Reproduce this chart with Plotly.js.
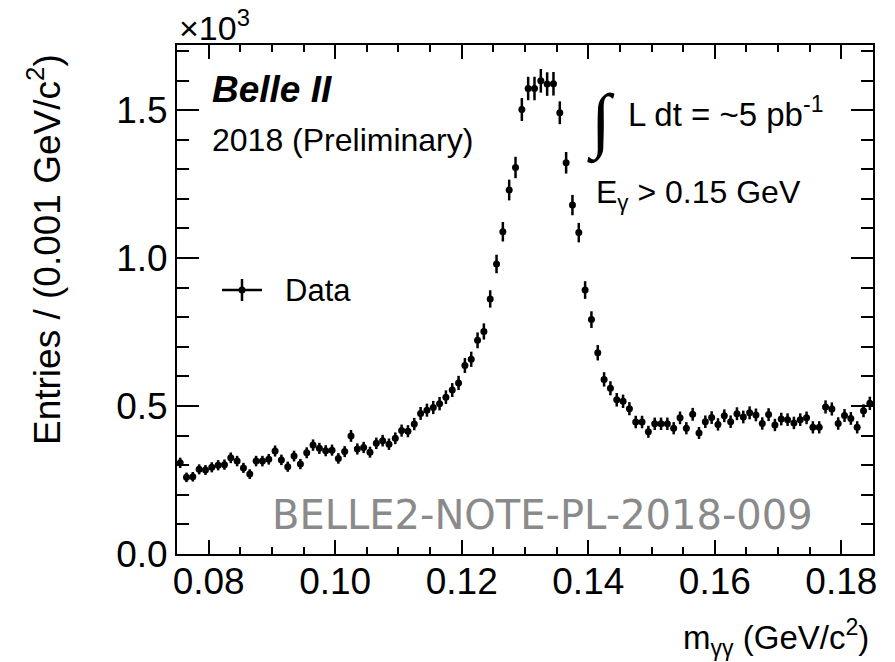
<!DOCTYPE html>
<html>
<head>
<meta charset="utf-8">
<script src="https://cdn.plot.ly/plotly-3.0.1.min.js"></script>
<style>
  html, body { margin: 0; padding: 0; background: #fff; }
  #chart { width: 895px; height: 662px; }
</style>
</head>
<body>
<div id="chart"></div>
<script>
// Diphoton invariant mass histogram: 110 bins of 0.001 GeV/c^2 from 0.075 to 0.185
const binLow = 0.075;
const binWidth = 0.001;

// Entries per bin, in units of 10^3
const entries = [
  0.308, 0.259, 0.261, 0.286, 0.284, 0.293, 0.300, 0.302, 0.325, 0.314,
  0.291, 0.270, 0.314, 0.314, 0.320, 0.348, 0.318, 0.295, 0.331, 0.304,
  0.342, 0.368, 0.357, 0.349, 0.351, 0.323, 0.346, 0.399, 0.355, 0.360,
  0.344, 0.374, 0.383, 0.371, 0.391, 0.417, 0.415, 0.439, 0.475, 0.486,
  0.495, 0.508, 0.530, 0.554, 0.578, 0.637, 0.658, 0.722, 0.752, 0.862,
  0.980, 1.089, 1.230, 1.306, 1.502, 1.573, 1.573, 1.599, 1.588, 1.589,
  1.491, 1.322, 1.179, 1.086, 0.892, 0.792, 0.680, 0.590, 0.560, 0.521,
  0.516, 0.491, 0.446, 0.446, 0.413, 0.440, 0.440, 0.440, 0.425, 0.460,
  0.425, 0.472, 0.409, 0.447, 0.461, 0.438, 0.467, 0.447, 0.474, 0.463,
  0.477, 0.470, 0.441, 0.471, 0.436, 0.456, 0.454, 0.443, 0.454, 0.460,
  0.428, 0.428, 0.497, 0.490, 0.441, 0.468, 0.458, 0.428, 0.484, 0.509
];

const xTickFormat = '.2f';
const yTickFormat = '.1f';

// bin centres and Poisson uncertainties (sqrt of raw counts, back in 10^3 units)
const binCentres = entries.map((_, i) => binLow + (i + 0.5) * binWidth);
const poissonErr = entries.map(v => Math.sqrt(v * 1000) / 1000);

// pixel helpers for the frame: plot area spans x 177..873, y 45..554
const L = 177, R = 873, T = 45, B = 554;
const px = x => (x - L) / (R - L);
const py = y => (B - y) / (B - T);

const FONT = 'Liberation Sans, Arial, Helvetica, sans-serif';

const data = [{
  type: 'scatter',
  mode: 'markers',
  x: binCentres,
  y: entries,
  name: 'Data',
  marker: { color: '#000', size: 7 },
  error_y: { type: 'data', array: poissonErr, visible: true, color: '#000', thickness: 2.5, width: 0 },
  showlegend: false,
  cliponaxis: true
}];

const axisCommon = {
  showgrid: false,
  zeroline: false,
  showline: true,
  linecolor: '#000',
  linewidth: 2,
  mirror: 'ticks',
  ticks: 'inside',
  tickcolor: '#000',
  tickwidth: 2,
  tickfont: { family: FONT, size: 37, color: '#000' }
};

const layout = {
  width: 895,
  height: 662,
  margin: { l: L, r: 895 - R, t: T, b: 662 - B },
  paper_bgcolor: '#fff',
  plot_bgcolor: '#fff',
  showlegend: false,
  xaxis: Object.assign({}, axisCommon, {
    range: [0.075, 0.185],
    tick0: 0.08,
    dtick: 0.02,
    ticklen: 14,
    ticklabelstandoff: -6,
    tickformat: xTickFormat,
    minor: { dtick: 0.005, tick0: 0.08, ticks: 'inside', ticklen: 7, tickwidth: 2, tickcolor: '#000' }
  }),
  yaxis: Object.assign({}, axisCommon, {
    range: [0, 1.72],
    tick0: 0,
    dtick: 0.5,
    ticklen: 22,
    tickformat: yTickFormat,
    minor: { dtick: 0.1, tick0: 0, ticks: 'inside', ticklen: 12, tickwidth: 2, tickcolor: '#000' }
  }),
  shapes: [
    // legend symbol: horizontal bar, vertical error bar, marker
    { type: 'line', xref: 'paper', yref: 'paper', x0: px(222), x1: px(262), y0: py(290), y1: py(290), line: { color: '#000', width: 2.5 } },
    { type: 'line', xref: 'paper', yref: 'paper', x0: px(242), x1: px(242), y0: py(279), y1: py(301), line: { color: '#000', width: 2.5 } },
    { type: 'circle', xref: 'paper', yref: 'paper', x0: px(238.5), x1: px(245.5), y0: py(286.5), y1: py(293.5), fillcolor: '#000', line: { color: '#000', width: 0 } }
  ],
  annotations: [
    { text: '×10<sup>3</sup>', xref: 'paper', yref: 'paper', x: px(177), y: py(49), xanchor: 'left', yanchor: 'bottom', showarrow: false, font: { family: FONT, size: 34, color: '#000' } },
    { text: '<b><i>Belle II</i></b>', xref: 'paper', yref: 'paper', x: px(210), y: py(89), xanchor: 'left', yanchor: 'middle', showarrow: false, font: { family: FONT, size: 37, color: '#000' } },
    { text: '2018 (Preliminary)', xref: 'paper', yref: 'paper', x: px(210), y: py(140), xanchor: 'left', yanchor: 'middle', showarrow: false, font: { family: FONT, size: 32, color: '#000' } },
    { text: '∫', xref: 'paper', yref: 'paper', x: px(585), y: py(122), xanchor: 'left', yanchor: 'middle', showarrow: false, font: { family: 'Liberation Serif, serif', size: 72, color: '#000' } },
    { text: 'L dt = ~5 pb<sup>-1</sup>', xref: 'paper', yref: 'paper', x: px(626), y: py(112), xanchor: 'left', yanchor: 'middle', showarrow: false, font: { family: FONT, size: 33, color: '#000' } },
    { text: 'E<sub>γ</sub> > 0.15 GeV', xref: 'paper', yref: 'paper', x: px(594), y: py(194), xanchor: 'left', yanchor: 'middle', showarrow: false, font: { family: FONT, size: 32, color: '#000' } },
    { text: 'Data', xref: 'paper', yref: 'paper', x: px(283), y: py(290), xanchor: 'left', yanchor: 'middle', showarrow: false, font: { family: FONT, size: 31, color: '#000' } },
    { text: 'BELLE2-NOTE-PL-2018-009', xref: 'paper', yref: 'paper', x: px(270), y: py(515), xanchor: 'left', yanchor: 'middle', showarrow: false, font: { family: 'DejaVu Sans, sans-serif', size: 40, color: '#8a8a8a' } },
    { text: 'm<sub>γγ</sub> (GeV/c<sup>2</sup>)', xref: 'paper', yref: 'paper', x: px(871), y: py(637), xanchor: 'right', yanchor: 'middle', showarrow: false, font: { family: FONT, size: 33, color: '#000' } },
    { text: 'Entries / (0.001 GeV/c<sup>2</sup>)', xref: 'paper', yref: 'paper', x: px(45), y: py(250), xanchor: 'center', yanchor: 'middle', textangle: -90, showarrow: false, font: { family: FONT, size: 37, color: '#000' } }
  ]
};

Plotly.newPlot('chart', data, layout, { staticPlot: true, displayModeBar: false });
</script>
</body>
</html>
